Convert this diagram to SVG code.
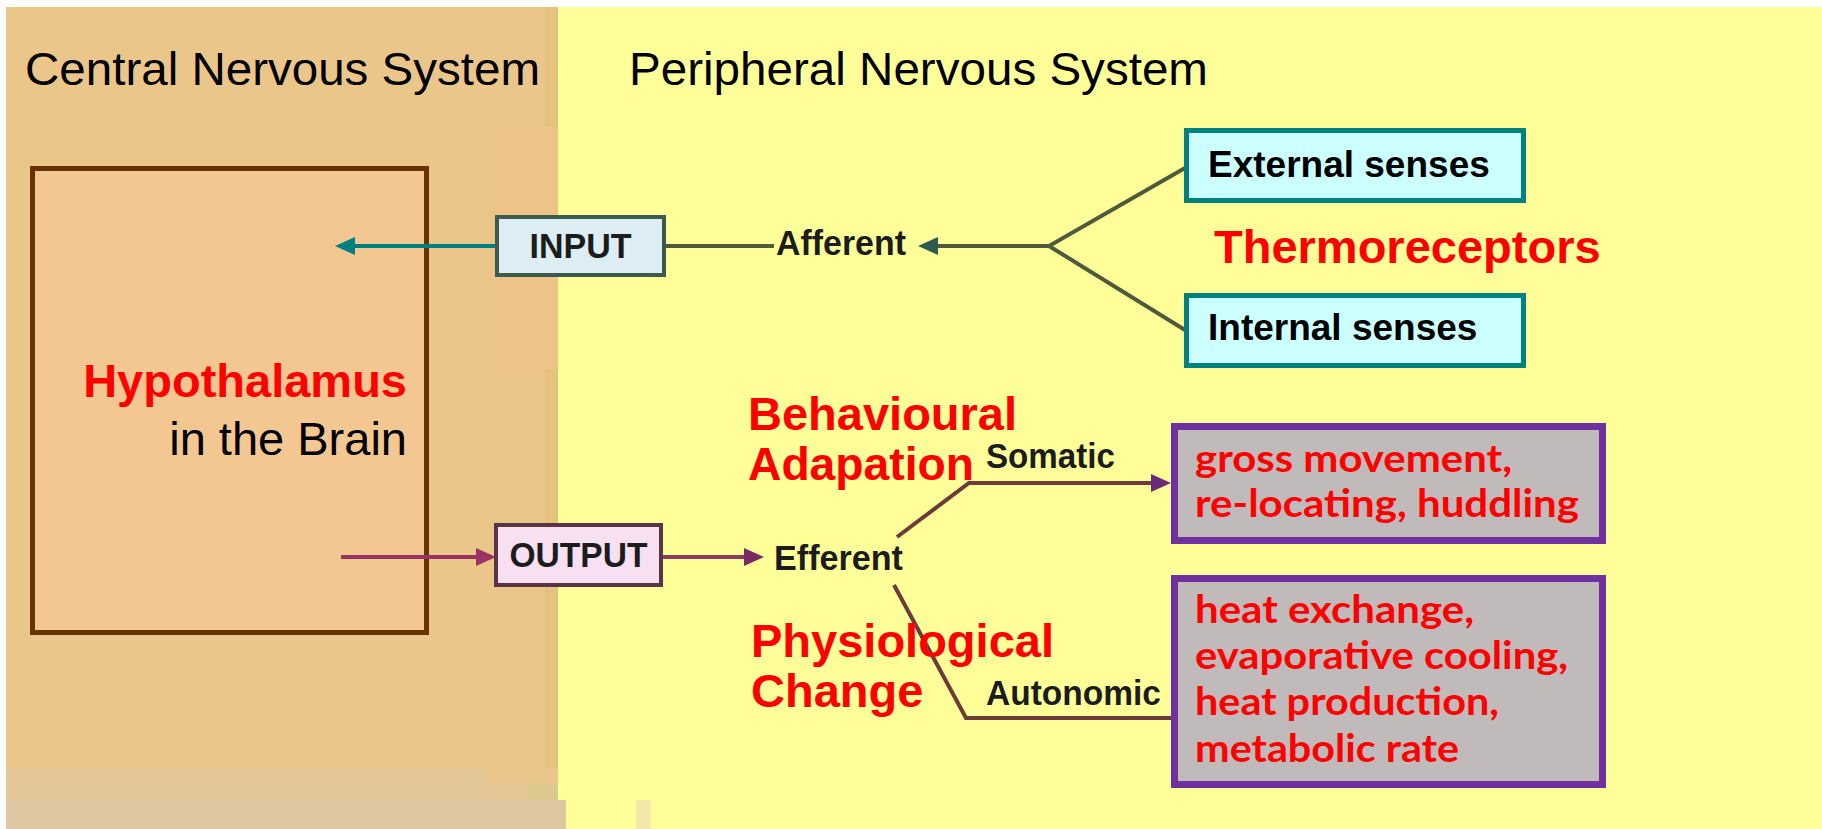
<svg xmlns="http://www.w3.org/2000/svg" width="1822" height="829" viewBox="0 0 1822 829">
<style>
.hdr{font-family:"Liberation Sans",Arial,sans-serif;font-size:47px;fill:#000}
.red{font-family:"Liberation Sans",Arial,sans-serif;font-size:47px;font-weight:bold;fill:#FF0000}
.lbl{font-family:"Liberation Sans",Arial,sans-serif;font-weight:bold;fill:#1c1c1c}
.sense{font-family:"Liberation Sans",Arial,sans-serif;font-size:37px;font-weight:bold;fill:#000}
.eff{font-family:Lato,"Liberation Sans",sans-serif;font-weight:bold;font-size:37.5px;fill:#FF0000}
.effbox{fill:#C0BABA;stroke:#7030A0;stroke-width:7}
.sensebox{fill:#CCFFFF;stroke:#008080;stroke-width:5}
.conn{fill:none;stroke-width:4}
</style>
<defs>
<marker id="ahTeal" viewBox="0 0 20 18" refX="1" refY="9" markerWidth="20" markerHeight="18" markerUnits="userSpaceOnUse" orient="auto"><path d="M0,0 L20,9 L0,18 z" fill="#008080"/></marker>
<marker id="ahPurple" viewBox="0 0 20 18" refX="1" refY="9" markerWidth="20" markerHeight="18" markerUnits="userSpaceOnUse" orient="auto"><path d="M0,0 L20,9 L0,18 z" fill="#993366"/></marker>
<marker id="ahAff" viewBox="0 0 20 18" refX="1" refY="9" markerWidth="20" markerHeight="18" markerUnits="userSpaceOnUse" orient="auto"><path d="M0,0 L20,9 L0,18 z" fill="#2E5A52"/></marker>
<marker id="ahEff" viewBox="0 0 20 18" refX="1" refY="9" markerWidth="20" markerHeight="18" markerUnits="userSpaceOnUse" orient="auto"><path d="M0,0 L20,9 L0,18 z" fill="#7A2A62"/></marker>
<marker id="ahSom" viewBox="0 0 20 18" refX="1" refY="9" markerWidth="20" markerHeight="18" markerUnits="userSpaceOnUse" orient="auto"><path d="M0,0 L20,9 L0,18 z" fill="#6B2A7A"/></marker>
</defs>

<!-- background -->
<rect x="0" y="0" width="1822" height="829" fill="#FFFFFF"/>
<rect x="558" y="7" width="1264" height="822" fill="#FFFF99"/>
<rect x="6" y="7" width="552" height="822" fill="#EBC68A"/>
<rect x="545" y="7" width="13" height="762" fill="#E6C27F"/>
<rect x="489" y="127" width="69" height="243" fill="#EEC388"/>
<rect x="6" y="769" width="481" height="31" fill="#E3C698"/>
<rect x="487" y="783" width="71" height="17" fill="#E4C593"/>
<rect x="531" y="783" width="27" height="17" fill="#DCC98C"/>
<rect x="6" y="800" width="560" height="29" fill="#DCC7A0"/>
<rect x="636" y="800" width="15" height="29" fill="#F3E8A8"/>

<text class="hdr" x="25" y="85" textLength="515" lengthAdjust="spacingAndGlyphs">Central Nervous System</text>
<text class="hdr" x="629" y="85" textLength="579" lengthAdjust="spacingAndGlyphs">Peripheral Nervous System</text>

<g id="hypothalamus">
<rect x="32.5" y="168.5" width="394" height="464" fill="#F3C791" stroke="#663300" stroke-width="5"/>
<text class="red" x="407" y="397" text-anchor="end">Hypothalamus</text>
<text class="hdr" x="407" y="455" text-anchor="end">in the Brain</text>
</g>

<g id="connectors">
<line class="conn" x1="497" y1="246" x2="354" y2="246" stroke="#008080" marker-end="url(#ahTeal)"/>
<line class="conn" x1="341" y1="557" x2="477" y2="557" stroke="#993366" marker-end="url(#ahPurple)"/>
<line class="conn" x1="666" y1="246" x2="774" y2="246" stroke="#4E5A3A"/>
<line class="conn" x1="1049" y1="246" x2="937" y2="246" stroke="#4E5A3A" marker-end="url(#ahAff)"/>
<polyline class="conn" points="1185,168 1049,246 1185,330" stroke="#4E5A3A"/>
<line class="conn" x1="663" y1="557" x2="745" y2="557" stroke="#8B3A62" marker-end="url(#ahEff)"/>
<polyline class="conn" points="897,537 969,483 1152,483" stroke="#6E3A3A" marker-end="url(#ahSom)"/>
<polyline class="conn" points="894,585 966,718 1172,718" stroke="#6E3A3A"/>
<text class="lbl" x="776" y="255" font-size="35" textLength="130" lengthAdjust="spacingAndGlyphs">Afferent</text>
<text class="lbl" x="774" y="570" font-size="35" textLength="129" lengthAdjust="spacingAndGlyphs">Efferent</text>
<text class="lbl" x="986" y="468" font-size="35" textLength="129" lengthAdjust="spacingAndGlyphs">Somatic</text>
<text class="lbl" x="986" y="705" font-size="35" textLength="175" lengthAdjust="spacingAndGlyphs">Autonomic</text>
</g>

<g id="input">
<rect x="497" y="217" width="167" height="58" fill="#DCEEF3" stroke="#3E5A4E" stroke-width="4"/>
<text class="lbl" x="580.5" y="258" font-size="35" text-anchor="middle" textLength="102" lengthAdjust="spacingAndGlyphs">INPUT</text>
</g>

<g id="output">
<rect x="496" y="525" width="165" height="60" fill="#F8E0F3" stroke="#5A3545" stroke-width="4"/>
<text class="lbl" x="578.5" y="567" font-size="35" text-anchor="middle" textLength="138" lengthAdjust="spacingAndGlyphs">OUTPUT</text>
</g>

<g id="external-senses">
<rect class="sensebox" x="1186.5" y="130.5" width="337" height="70"/>
<text class="sense" x="1208" y="177">External senses</text>
</g>

<g id="internal-senses">
<rect class="sensebox" x="1186.5" y="295.5" width="337" height="70"/>
<text class="sense" x="1208" y="340">Internal senses</text>
</g>

<g id="thermoreceptors">
<text class="red" x="1214" y="263">Thermoreceptors</text>
</g>

<g id="behavioural">
<text class="red" x="748" y="430">Behavioural</text>
<text class="red" x="748" y="480" textLength="226" lengthAdjust="spacingAndGlyphs">Adapation</text>
</g>

<g id="physiological">
<text class="red" x="751" y="657">Physiological</text>
<text class="red" x="751" y="707">Change</text>
</g>

<g id="somatic-effects">
<rect class="effbox" x="1174.5" y="426.5" width="428" height="114"/>
<text class="eff" x="1195" y="472" textLength="317" lengthAdjust="spacingAndGlyphs">gross movement,</text>
<text class="eff" x="1195" y="517" textLength="384" lengthAdjust="spacingAndGlyphs">re-locating, huddling</text>
</g>

<g id="autonomic-effects">
<rect class="effbox" x="1174.5" y="578.5" width="428" height="206"/>
<text class="eff" x="1195" y="623" textLength="279" lengthAdjust="spacingAndGlyphs">heat exchange,</text>
<text class="eff" x="1195" y="669" textLength="373" lengthAdjust="spacingAndGlyphs">evaporative cooling,</text>
<text class="eff" x="1195" y="715" textLength="304" lengthAdjust="spacingAndGlyphs">heat production,</text>
<text class="eff" x="1195" y="762" textLength="264" lengthAdjust="spacingAndGlyphs">metabolic rate</text>
</g>
</svg>
